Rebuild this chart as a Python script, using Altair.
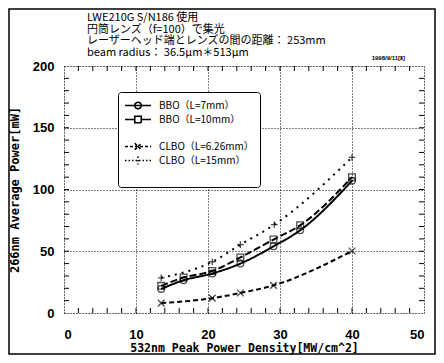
import altair as alt
import pandas as pd

# ---- data ----
x_bbo7 = [13.5, 16.6, 20.6, 24.5, 29.1, 32.8, 40.0]
y_bbo7 = [19.5, 26.5, 32.0, 40.0, 54.0, 67.0, 107.0]
x_bbo10 = [13.5, 16.6, 20.6, 24.5, 29.1, 32.8, 40.0]
y_bbo10 = [22.0, 28.7, 34.0, 45.0, 59.5, 71.0, 110.0]
x_clbo626 = [13.5, 20.6, 24.5, 29.1, 40.0]
y_clbo626 = [8.0, 12.0, 16.2, 22.4, 50.2]
x_clbo15 = [13.5, 20.6, 24.5, 29.2, 40.0]
y_clbo15 = [28.5, 41.5, 55.3, 71.5, 126.0]

series_names = ["BBO（L=7mm）", "BBO（L=10mm）", "CLBO（L=6.26mm）", "CLBO（L=15mm）"]
legend_order = [series_names[0], series_names[1], "\u3000", series_names[2], series_names[3], "\u3000\u3000"]

x_major = [0, 10, 20, 30, 40, 50]
y_major = [0, 50, 100, 150, 200]
x_minor = [2, 4, 6, 8, 10, 12, 14, 16, 18, 20, 22, 24, 26, 28, 30, 32, 34, 36, 38, 40, 42, 44, 46, 48]
y_minor = [10, 20, 30, 40, 50, 60, 70, 80, 90, 100, 110, 120, 130, 140, 150, 160, 170, 180, 190]

title_lines = [
    "LWE210G  S/N186 使用",
    "円筒レンズ（f=100）で集光",
    "レーザーヘッド端とレンズの間の距離： 253mm",
    "beam radius： 36.5μm＊513μm",
]
stamp_text = "1998/9/11[Ⅱ]"
x_title = "532nm Peak Power Density[MW/cm^2]"
y_title = "266nm Average Power[mW]"

# ---- tables ----
rows = []
for name, xs, ys in [
    (series_names[0], x_bbo7, y_bbo7),
    (series_names[1], x_bbo10, y_bbo10),
    (series_names[2], x_clbo626, y_clbo626),
    (series_names[3], x_clbo15, y_clbo15),
]:
    for xv, yv in zip(xs, ys):
        rows.append({"series": name, "x": xv, "y": yv})
df = pd.DataFrame(rows)
df_xminor = pd.DataFrame({"t": x_minor})
df_yminor = pd.DataFrame({"t": y_minor})
df_one = pd.DataFrame({"k": [0]})

W, H = 360, 247

xscale = alt.Scale(domain=[0, 50], nice=False)
yscale = alt.Scale(domain=[0, 200], nice=False)

xaxis = alt.Axis(values=x_major, grid=True, gridDash=[1, 2], gridColor="black", gridWidth=1,
                 ticks=False, domain=False, labelFont="Liberation Sans", labelFontWeight="bold",
                 labelFontSize=13, labelColor="black", labelPadding=15,
                 title=x_title, titleFont="DejaVu Sans Mono", titleFontWeight="bold",
                 titleFontSize=11.5, titleColor="black", titlePadding=1)
yaxis = alt.Axis(values=y_major, grid=True, gridDash=[1, 2], gridColor="black", gridWidth=1,
                 ticks=False, domain=False, labelFont="Liberation Sans", labelFontWeight="bold",
                 labelFontSize=13, labelColor="black", labelPadding=10,
                 title=y_title, titleFont="DejaVu Sans Mono", titleFontWeight="bold",
                 titleFontSize=12, titleColor="black", titlePadding=11)

dash_range = [[1, 0], [7, 3], [5, 3], [2, 5]]
width_range = [2, 2, 2.5, 2.5]

lines = alt.Chart(df).mark_line(color="black", interpolate="monotone").encode(
    x=alt.X("x:Q", scale=xscale, axis=xaxis),
    y=alt.Y("y:Q", scale=yscale, axis=yaxis),
    detail="series:N",
    strokeDash=alt.StrokeDash("series:N", scale=alt.Scale(domain=series_names, range=dash_range), legend=None),
    strokeWidth=alt.StrokeWidth("series:N", scale=alt.Scale(domain=series_names, range=width_range), legend=None),
)

shape_range = [
    "circle",
    "square",
    "M-1,-1L1,1M-1,1L1,-1",
    "M-1,0L1,0M0,-1L0,1",
]
points = alt.Chart(df).mark_point(color="black", filled=False, size=45, strokeWidth=1.3).encode(
    x="x:Q",
    y="y:Q",
    shape=alt.Shape("series:N", scale=alt.Scale(domain=series_names, range=shape_range), legend=None),
)

# legend-only layer (no marks drawn)
leg_shapes = [
    "M-1,0L3,0M1.5,0A0.5,0.5,0,1,1,0.5,0A0.5,0.5,0,1,1,1.5,0",
    "M-1,0L0.5,0M1.5,0L3,0M0.5,-0.5H1.5V0.5H0.5Z",
    "M0,0",
    "M-1,0L3,0M0.5,-0.5L1.5,0.5M0.5,0.5L1.5,-0.5",
    "M-1,0L3,0M1,-0.6L1,0.6",
    "M0,0",
]
leg_dash = [[1, 0], [1, 0], [1, 0], [3, 2], [1.5, 2], [1, 0]]
leg_params = dict(orient="none", legendX=54, legendY=26, title=None, strokeColor="black",
                  cornerRadius=3, fillColor="white", padding=6,
                  labelFont="Noto Sans CJK JP", labelFontSize=10, labelColor="black",
                  labelOffset=20, symbolSize=169, symbolStrokeColor="black",
                  symbolStrokeWidth=1.6, symbolFillColor="transparent", rowPadding=0,
                  symbolOpacity=1)
legend_layer = alt.Chart(df).transform_filter("false").mark_point(color="black", filled=False).encode(
    x="x:Q",
    y="y:Q",
    shape=alt.Shape("series:N", scale=alt.Scale(domain=legend_order, range=leg_shapes),
                    legend=alt.Legend(**leg_params)),
    strokeDash=alt.StrokeDash("series:N", scale=alt.Scale(domain=legend_order, range=leg_dash),
                              legend=alt.Legend(**leg_params)),
)

tick_len = 5
ticks_bottom = alt.Chart(df_xminor).mark_rule(color="black", strokeWidth=1).encode(
    x="t:Q", y=alt.value(H), y2=alt.value(H - tick_len))
ticks_top = alt.Chart(df_xminor).mark_rule(color="black", strokeWidth=1).encode(
    x="t:Q", y=alt.value(0), y2=alt.value(tick_len))
ticks_left = alt.Chart(df_yminor).mark_rule(color="black", strokeWidth=1).encode(
    y="t:Q", x=alt.value(0), x2=alt.value(tick_len))
ticks_right = alt.Chart(df_yminor).mark_rule(color="black", strokeWidth=1).encode(
    y="t:Q", x=alt.value(W), x2=alt.value(W - tick_len))

header = alt.Chart(df_one).mark_text(text=title_lines, fontSize=11, align="left", baseline="top",
                                     font="Noto Sans CJK JP", color="black", lineHeight=11.6).encode(
    x=alt.value(23), y=alt.value(-54))

stamp = alt.Chart(df_one).mark_text(text=stamp_text, fontSize=6, fontWeight="bold", align="right",
                                    font="Liberation Sans", color="black").encode(
    x=alt.value(W - 19), y=alt.value(-8))

border = alt.Chart(df_one).mark_rect(filled=False, stroke="black", strokeWidth=1.5).encode(
    x=alt.value(-55), x2=alt.value(W + 11), y=alt.value(-57), y2=alt.value(H + 41))

chart = alt.layer(
    lines, points, legend_layer, ticks_bottom, ticks_top, ticks_left, ticks_right, header, stamp, border
).resolve_scale(
    shape="independent", strokeDash="independent"
).properties(
    width=W, height=H,
    autosize=alt.AutoSizeParams(type="none"),
    padding={"left": 56, "top": 58, "right": 12, "bottom": 42},
).configure_view(
    stroke="black", strokeWidth=1.5
).configure_legend(
    strokeWidth=2
).configure(background="white")

chart.save("out.html", embed_options={"renderer": "svg", "actions": False})
